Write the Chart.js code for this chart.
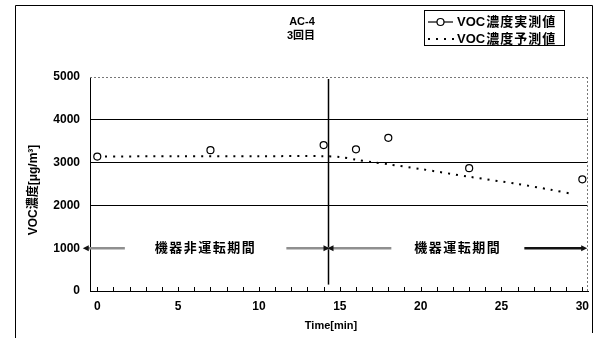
<!DOCTYPE html>
<html>
<head>
<meta charset="utf-8">
<script src="https://cdn.jsdelivr.net/npm/chart.js@4.4.0/dist/chart.umd.min.js"></script>
<style>
  html, body { margin: 0; padding: 0; background: #fff; }
  #wrap { width: 611px; height: 338px; }
</style>
</head>
<body>
<div id="wrap"><canvas id="chart"></canvas></div>
<script>
// measured VOC (open circles)
const measuredTime = [0, 7, 14, 16, 18, 23, 30]
const measuredVoc = [3140, 3290, 3410, 3310, 3580, 2870, 2610]

// predicted VOC (dotted line)
const predictedTime = [0, 5, 10, 14, 15, 16, 17, 18, 20, 23, 26, 28, 29.5]
const predictedVoc = [3140, 3150, 3150, 3150, 3130, 3070, 3010, 2960, 2850, 2670, 2500, 2370, 2260]

const xLabels = [0, 5, 10, 15, 20, 25, 30]
const yTicks = [0, 1000, 2000, 3000, 4000, 5000]
const titleLines = ["AC-4", "3回目"]
const legendLabels = ["VOC濃度実測値", "VOC濃度予測値"]
const xTitle = "Time[min]"
const yTitle = "VOC濃度[μg/m³]"

// equipment off / on periods, split at the switch time
const switchTime = 14.3
const periodLabels = ["機器非運転期間", "機器運転期間"]
const periodEnds = [-0.9, 30.3]
const periodLevel = 1000

const LATIN = '"Liberation Sans", "Noto Sans CJK JP", sans-serif'

function arrowHead(ctx, x, y, dir) {
  ctx.beginPath()
  ctx.moveTo(x, y)
  ctx.lineTo(x - dir * 6, y - 3)
  ctx.lineTo(x - dir * 6, y + 3)
  ctx.closePath()
  ctx.fill()
}

const decorations = {
  id: "decorations",
  beforeDatasetsDraw(chart) {
    const { ctx, chartArea, scales } = chart
    const x = scales.x
    const y = scales.y
    ctx.save()

    // switch line
    const sx = Math.round(x.getPixelForValue(switchTime)) + 0.5
    ctx.strokeStyle = "#000"
    ctx.lineWidth = 1.5
    ctx.beginPath()
    ctx.moveTo(sx, chartArea.top + 2)
    ctx.lineTo(sx, y.getPixelForValue(150))
    ctx.stroke()

    // period arrows + labels
    const py = y.getPixelForValue(periodLevel)
    ctx.font = "bold 13px " + LATIN
    ctx.letterSpacing = "1.5px"
    ctx.textAlign = "center"
    ctx.textBaseline = "middle"
    periodLabels.forEach((label, i) => {
      const x0 = x.getPixelForValue(switchTime)
      const x1 = x.getPixelForValue(periodEnds[i])
      const mid = (x0 + x1) / 2
      const w = ctx.measureText(label).width
      const gap = i === 0 ? 30 : 23
      const dir = x1 > x0 ? 1 : -1
      const innerEnd = mid - dir * (w / 2 + gap)
      const outerStart = mid + dir * (w / 2 + gap)
      ctx.lineWidth = 2.5
      ctx.strokeStyle = "#8f8f8f"
      ctx.beginPath()
      ctx.moveTo(x0, py)
      ctx.lineTo(innerEnd, py)
      ctx.stroke()
      ctx.strokeStyle = i === 0 ? "#8f8f8f" : "#111"
      ctx.beginPath()
      ctx.moveTo(outerStart, py)
      ctx.lineTo(x1 - dir * 4, py)
      ctx.stroke()
      ctx.fillStyle = "#111"
      arrowHead(ctx, x1, py, dir)
      arrowHead(ctx, x0 - dir * 1, py, -dir)
      ctx.fillStyle = "#000"
      ctx.fillText(label, mid, py)
    })
    ctx.letterSpacing = "0px"
    ctx.restore()
  },
  afterDraw(chart) {
    const { ctx, chartArea, scales } = chart
    const x = scales.x
    ctx.save()

    // outer frame
    ctx.strokeStyle = "#000"
    ctx.lineWidth = 1
    ctx.beginPath()
    ctx.moveTo(15.5, 338)
    ctx.lineTo(15.5, 5.5)
    ctx.lineTo(592.5, 5.5)
    ctx.lineTo(592.5, 333)
    ctx.stroke()

    // top and right borders of plot (dotted gray)
    ctx.strokeStyle = "#777"
    ctx.setLineDash([2, 2])
    ctx.beginPath()
    ctx.moveTo(chartArea.left, chartArea.top + 0.5)
    ctx.lineTo(chartArea.right, chartArea.top + 0.5)
    ctx.moveTo(chartArea.right - 0.5, chartArea.top)
    ctx.lineTo(chartArea.right - 0.5, chartArea.bottom)
    ctx.stroke()
    ctx.setLineDash([])

    // inward minor ticks on x axis
    ctx.strokeStyle = "#000"
    ctx.beginPath()
    for (let t = 0; t <= 30; t++) {
      const px = Math.round(x.getPixelForValue(t)) + 0.5
      ctx.moveTo(px, chartArea.bottom)
      ctx.lineTo(px, chartArea.bottom - 4)
    }
    ctx.stroke()

    // title
    ctx.fillStyle = "#000"
    ctx.textAlign = "center"
    ctx.textBaseline = "middle"
    ctx.font = "bold 11px " + LATIN
    ctx.fillText(titleLines[0], 302, 22)
    ctx.fillText(titleLines[1], 301, 36)

    // legend
    ctx.strokeStyle = "#000"
    ctx.lineWidth = 1
    ctx.strokeRect(424.5, 10.5, 140, 35)
    const ds = chart.data.datasets
    const rows = [22, 39]
    rows.forEach((ry, i) => {
      ctx.strokeStyle = "#000"
      ctx.beginPath()
      if (i === 0) {
        ctx.lineWidth = 1.2
        ctx.moveTo(428, ry)
        ctx.lineTo(453, ry)
        ctx.stroke()
        ctx.beginPath()
        ctx.fillStyle = "#fff"
        ctx.arc(440.5, ry, ds[0].pointRadius, 0, Math.PI * 2)
        ctx.fill()
        ctx.stroke()
      } else {
        ctx.lineWidth = ds[1].borderWidth
        ctx.setLineDash(ds[1].borderDash)
        ctx.moveTo(428, ry)
        ctx.lineTo(455, ry)
        ctx.stroke()
        ctx.setLineDash([])
      }
      ctx.fillStyle = "#000"
      ctx.textAlign = "left"
      ctx.font = "bold 13px " + LATIN
      ctx.fillText(legendLabels[i].slice(0, 3), 457, ry)
      const vw = ctx.measureText(legendLabels[i].slice(0, 3)).width
      ctx.letterSpacing = "1px"
      ctx.fillText(legendLabels[i].slice(3), 458 + vw, ry)
      ctx.letterSpacing = "0px"
    })

    // axis titles
    ctx.textAlign = "center"
    ctx.font = "bold 11px " + LATIN
    ctx.fillText(xTitle, 331, 326)
    ctx.save()
    ctx.translate(34, 190)
    ctx.rotate(-Math.PI / 2)
    ctx.font = "bold 12px " + LATIN
    ctx.fillText(yTitle, 0, 0)
    ctx.restore()

    ctx.restore()
  },
}

const measured = measuredTime.map((t, i) => ({ x: t, y: measuredVoc[i] }))
const predicted = predictedTime.map((t, i) => ({ x: t, y: predictedVoc[i] }))

new Chart(document.getElementById("chart"), {
  type: "scatter",
  data: {
    datasets: [
      {
        label: legendLabels[0],
        data: measured,
        showLine: false,
        pointRadius: 3.5,
        pointBorderWidth: 1.2,
        pointBackgroundColor: "#fff",
        pointBorderColor: "#000",
        borderColor: "#000",
      },
      {
        label: legendLabels[1],
        data: predicted,
        showLine: true,
        pointRadius: 0,
        borderColor: "#000",
        borderWidth: 2,
        borderDash: [2, 6],
        tension: 0.3,
      },
    ],
  },
  options: {
    responsive: true,
    maintainAspectRatio: false,
    animation: false,
    layout: { padding: { top: 77, right: 23, left: 0, bottom: 0 } },
    plugins: {
      legend: { display: false },
      title: { display: false },
      tooltip: { enabled: false },
    },
    scales: {
      x: {
        type: "linear",
        min: -0.45,
        max: 30.35,
        afterBuildTicks: (axis) => {
          axis.ticks = xLabels.map((v) => ({ value: v }))
        },
        afterFit: (axis) => { axis.height = 47 },
        ticks: {
          autoSkip: false,
          maxRotation: 0,
          padding: 8,
          color: "#000",
          font: { family: LATIN, size: 12, weight: "bold" },
          callback: (v) => String(v),
        },
        grid: { drawOnChartArea: false, drawTicks: false },
        border: { color: "#000", width: 1 },
      },
      y: {
        min: 0,
        max: 5000,
        afterBuildTicks: (axis) => {
          axis.ticks = yTicks.map((v) => ({ value: v }))
        },
        afterFit: (axis) => { axis.width = 90 },
        ticks: {
          padding: 10,
          color: "#000",
          font: { family: LATIN, size: 12, weight: "bold" },
          callback: (v) => String(v),
        },
        grid: {
          drawTicks: false,
          color: (c) => (c.tick && c.tick.value > 1000 && c.tick.value < 5000 ? "#000" : "rgba(0,0,0,0)"),
          lineWidth: 1,
        },
        border: { color: "#000", width: 1 },
      },
    },
  },
  plugins: [decorations],
})
</script>
</body>
</html>
